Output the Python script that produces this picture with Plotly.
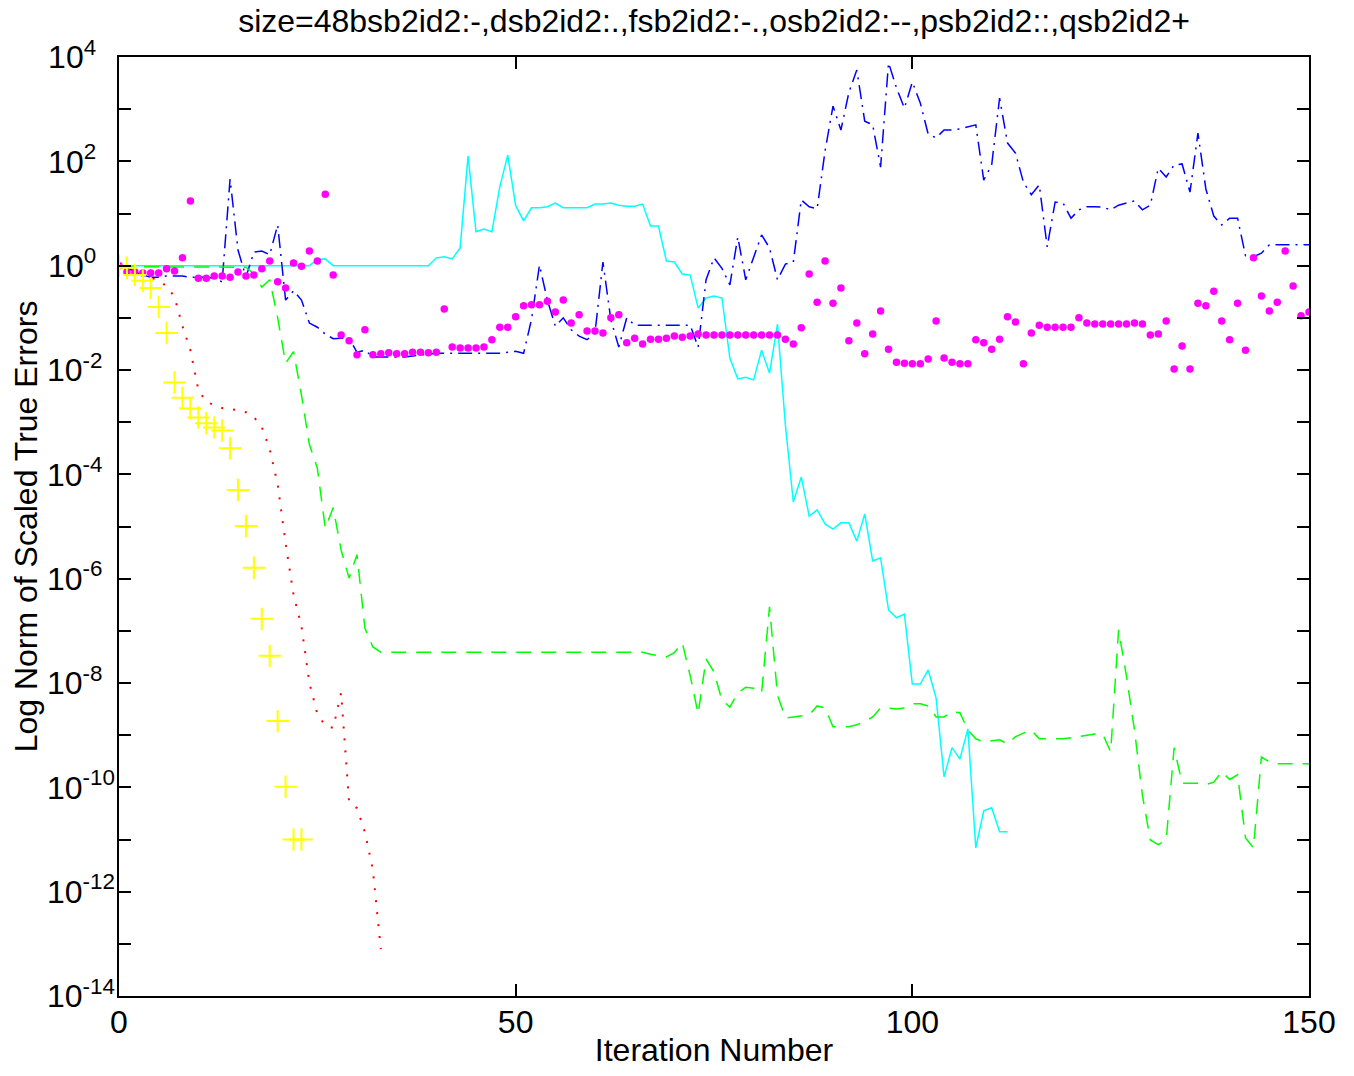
import plotly.graph_objects as go

# ---------------- data (log10 of the scaled true error norm) ----------------
iters_all = list(range(151))

# bsb2id2 : solid (cyan), iterations 0..112
bsb_log10 = (
    [0.0] * 24
    + [0.0, 0.12, 0.13]
    + [0.0] * 13
    + [0.15, 0.17, 0.13, 0.34, 2.10, 0.65, 0.70, 0.65, 1.51, 2.12,
       1.15, 0.86, 1.11, 1.11, 1.13, 1.20, 1.11, 1.11, 1.11, 1.11,
       1.18, 1.18, 1.20, 1.16, 1.14, 1.14, 1.18, 0.76, 0.76, 0.09,
       0.07, -0.16, -0.18, -0.81, -0.62, -0.58, -0.62, -1.77, -2.17, -2.14,
       -2.19, -1.62, -2.06, -1.12, -3.06, -4.53, -4.05, -4.80, -4.68, -4.95,
       -5.05, -4.93, -4.93, -5.28, -4.76, -5.66, -5.60, -6.60, -6.75, -6.68,
       -8.02, -8.02, -7.75, -8.29, -9.80, -9.24, -9.46, -8.88, -11.16, -10.45,
       -10.39, -10.85, -10.85]
)

# dsb2id2 : dotted (red), iterations 0..33
dsb_log10 = [0.0, -0.04, -0.10, -0.16, -0.22, -0.29, -0.39, -0.60, -1.16, -1.62,
             -2.38, -2.61, -2.67, -2.73, -2.75, -2.77, -2.81, -2.90, -3.09, -3.52,
             -4.19, -5.32, -6.31, -6.91, -8.00, -8.59, -8.82, -8.86, -8.19, -10.28,
             -10.40, -10.86, -11.58, -13.10]

# fsb2id2 : dash-dot (blue), iterations 0..150
fsb_log10 = (
    [0.0, -0.04, -0.12, -0.18, -0.22, -0.22, -0.20, -0.20, -0.20, -0.22,
     -0.22, -0.22, -0.24, -0.31, 1.66, 0.30, -0.22, 0.26, 0.28, 0.21,
     0.78, -0.66, -0.48, -0.66, -1.10, -1.18, -1.31, -1.40, -1.39, -1.39,
     -1.66, -1.62, -1.75, -1.75, -1.75, -1.75, -1.75, -1.73, -1.71, -1.69]
    + [-1.68] * 9
    + [-1.66, -1.64, -1.68, -1.03, 0.01, -0.66, -1.16, -1.00, -1.23, -1.35,
       -1.42, -1.29, 0.07, -1.04, -1.56, -1.00, -1.14]
    + [-1.14] * 7
    + [-1.56, -0.27, 0.15, -0.05, -0.37, 0.55, -0.27, 0.17, 0.59, 0.34,
       -0.27, 0.03, 0.07, 1.26, 1.13, 1.09, 2.20, 3.06, 2.60, 3.32,
       3.75, 2.77, 2.70, 1.89, 3.89, 3.41, 3.02, 3.52, 3.12, 2.52,
       2.45, 2.60, 2.60, 2.62, 2.66, 2.70, 1.64, 1.93, 3.21, 2.35,
       2.16, 1.60, 1.36, 1.55, 0.36, 1.22, 1.20, 0.91, 1.07, 1.13,
       1.13, 1.12, 1.07, 1.16, 1.20, 1.24, 1.07, 1.16, 1.87, 1.70,
       1.93, 1.95, 1.41, 2.54, 1.47, 0.95, 0.78, 0.91, 0.91, 0.19,
       0.17, 0.24]
    + [0.40] * 6
)

# osb2id2 : dashed (green), iterations 0..150
osb_log10 = (
    [-0.02] * 16
    + [-0.03, -0.16, -0.41, -0.27, -1.00, -1.87, -1.65, -2.48, -3.43, -3.88,
       -5.03, -4.64, -5.45, -5.99, -5.54, -6.95, -7.31]
    + [-7.41] * 34
    + [-7.45, -7.47, -7.50, -7.42, -7.23, -7.86, -8.59, -7.54, -7.79, -8.33,
       -8.46, -8.19, -8.08, -8.10, -8.19, -6.54, -8.23, -8.67, -8.65, -8.63,
       -8.61, -8.44, -8.48, -8.84, -8.84, -8.84, -8.80, -8.74, -8.65, -8.48,
       -8.48, -8.50, -8.48, -8.40, -8.40, -8.44, -8.65, -8.65, -8.55, -8.57,
       -8.90, -9.07, -9.13, -9.11, -9.09, -9.17, -9.03, -8.96, -8.90, -9.07,
       -9.07, -9.07, -9.07, -9.05, -9.03, -9.00, -8.98, -8.98, -9.32, -6.98,
       -7.88, -8.90, -10.15, -11.01, -11.10, -11.01, -9.24, -9.92, -9.92, -9.92,
       -9.95, -9.90, -9.70, -9.85, -9.76, -10.97, -11.16, -9.42, -9.51]
    + [-9.55] * 5
)

# psb2id2 : point markers (magenta), iterations 0..150
psb_log10 = [
    0.0, -0.12, -0.12, -0.14, -0.14, -0.14, -0.06, -0.10, 0.15, 1.24,
    -0.24, -0.24, -0.20, -0.20, -0.22, -0.12, -0.20, -0.18, -0.06, 0.09,
    -0.31, -0.43, 0.05, -0.01, 0.28, 0.09, 1.37, -0.18, -1.33, -1.44,
    -1.71, -1.23, -1.71, -1.69, -1.67, -1.69, -1.69, -1.66, -1.66, -1.67,
    -1.66, -0.83, -1.56, -1.58, -1.58, -1.58, -1.56, -1.42, -1.18, -1.18,
    -0.98, -0.77, -0.75, -0.75, -0.68, -0.89, -0.66, -1.10, -0.94, -1.25,
    -1.25, -1.29, -1.00, -0.94, -1.48, -1.39, -1.50, -1.41, -1.41, -1.39,
    -1.35, -1.37, -1.35, -1.31, -1.33, -1.33, -1.33, -1.33, -1.33, -1.33,
    -1.33, -1.33, -1.33, -1.33, -1.41, -1.50, -1.19, -0.16, -0.70, 0.09,
    -0.72, -0.43, -1.44, -1.10, -1.69, -1.31, -0.87, -1.60, -1.85, -1.87,
    -1.88, -1.88, -1.79, -1.06, -1.77, -1.85, -1.88, -1.88, -1.42, -1.48,
    -1.60, -1.41, -0.98, -1.08, -1.88, -1.29, -1.14, -1.18, -1.18, -1.18,
    -1.18, -1.00, -1.10, -1.12, -1.12, -1.12, -1.12, -1.12, -1.10, -1.12,
    -1.33, -1.31, -1.06, -1.98, -1.54, -1.98, -0.72, -0.77, -0.49, -1.06,
    -1.42, -0.72, -1.62, 0.15, -0.58, -0.87, -0.70, 0.28, -0.39, -0.96,
    -0.89,
]

# qsb2id2 : plus markers (yellow), iterations 0..23
qsb_log10 = [0.0, -0.04, -0.18, -0.29, -0.43, -0.79, -1.29, -2.24, -2.53, -2.74,
             -2.91, -3.02, -3.10, -3.16, -3.50, -4.30, -4.99, -5.79, -6.77, -7.48,
             -8.73, -9.99, -11.00, -11.00]

title_text = "size=48bsb2id2:-,dsb2id2:.,fsb2id2:-.,osb2id2:--,psb2id2::,qsb2id2+"
x_label = "Iteration Number"
y_label = "Log Norm of Scaled True Errors"
x_ticks = [0, 50, 100, 150]
y_label_decades = [4, 2, 0, -2, -4, -6, -8, -10, -12, -14]
y_minor_decades = [3, 1, -1, -3, -5, -7, -9, -11, -13]


def vals(logs):
    return [10.0 ** v for v in logs]


def power_label(k):
    # pad the exponent so that the "10" stays in the same place for every label
    exp = str(k)
    pad = {1: "\u2007\u2008", 2: "\u2007", 3: ""}[len(exp)]
    return "10<sup>%s%s</sup>" % (exp, pad)


FONT = "Liberation Sans, Arial, Helvetica, sans-serif"
FS = 32

fig = go.Figure()
fig.add_trace(go.Scatter(
    x=iters_all[:len(bsb_log10)], y=vals(bsb_log10), mode="lines", name="bsb2id2",
    line=dict(color="#00FFFF", width=1.5)))
fig.add_trace(go.Scatter(
    x=iters_all[:len(dsb_log10)], y=vals(dsb_log10), mode="lines", name="dsb2id2",
    line=dict(color="#FF0000", width=2, dash="2px,10px")))
fig.add_trace(go.Scatter(
    x=iters_all[:len(fsb_log10)], y=vals(fsb_log10), mode="lines", name="fsb2id2",
    line=dict(color="#0000FF", width=1.5, dash="14px,6px,2px,6px")))
fig.add_trace(go.Scatter(
    x=iters_all[:len(osb_log10)], y=vals(osb_log10), mode="lines", name="osb2id2",
    line=dict(color="#00FF00", width=1.5, dash="15px,10px")))
fig.add_trace(go.Scatter(
    x=iters_all[:len(psb_log10)], y=vals(psb_log10), mode="markers", name="psb2id2",
    marker=dict(color="#FF00FF", size=7.5, line=dict(width=0))))
fig.add_trace(go.Scatter(
    x=iters_all[:len(qsb_log10)], y=vals(qsb_log10), mode="markers", name="qsb2id2",
    marker=dict(symbol="cross-thin", color="#FFFF00", size=16,
                line=dict(color="#FFFF00", width=2))))

fig.update_layout(
    width=1338, height=1060,
    margin=dict(l=111, r=37, t=49, b=72, pad=0),
    paper_bgcolor="white", plot_bgcolor="white",
    showlegend=False,
    font=dict(family=FONT, size=FS, color="black"),
    title=dict(text=title_text, x=(111 + (1338 - 37)) / 2 / 1338, xanchor="center",
               y=1 - 13 / 1060, yanchor="middle", yref="container",
               font=dict(family=FONT, size=FS, color="black")),
    xaxis=dict(
        range=[0, 150], tickmode="array", tickvals=x_ticks,
        ticks="inside", ticklen=12, tickwidth=1.5, tickcolor="black",
        showline=True, linecolor="black", linewidth=1.5, mirror="allticks",
        showgrid=False, zeroline=False, ticklabelstandoff=-3,
        tickfont=dict(family=FONT, size=FS, color="black"),
        title=dict(text=x_label, standoff=21, font=dict(family=FONT, size=FS, color="black")),
        automargin=False,
    ),
    yaxis=dict(
        type="log", range=[-14, 4], tickmode="array",
        tickvals=[10.0 ** k for k in y_label_decades],
        ticktext=[power_label(k) for k in y_label_decades],
        ticks="inside", ticklen=12, tickwidth=1.5, tickcolor="black",
        minor=dict(tickmode="array", tickvals=[10.0 ** k for k in y_minor_decades],
                   ticks="inside", ticklen=12, tickwidth=1.5, tickcolor="black",
                   showgrid=False),
        showline=True, linecolor="black", linewidth=1.5, mirror="allticks",
        showgrid=False, zeroline=False, ticklabelstandoff=-4,
        tickfont=dict(family=FONT, size=FS, color="black"),
        title=dict(text=y_label, standoff=6, font=dict(family=FONT, size=FS, color="black")),
        automargin=False,
    ),
)

fig.write_html("out.html")
